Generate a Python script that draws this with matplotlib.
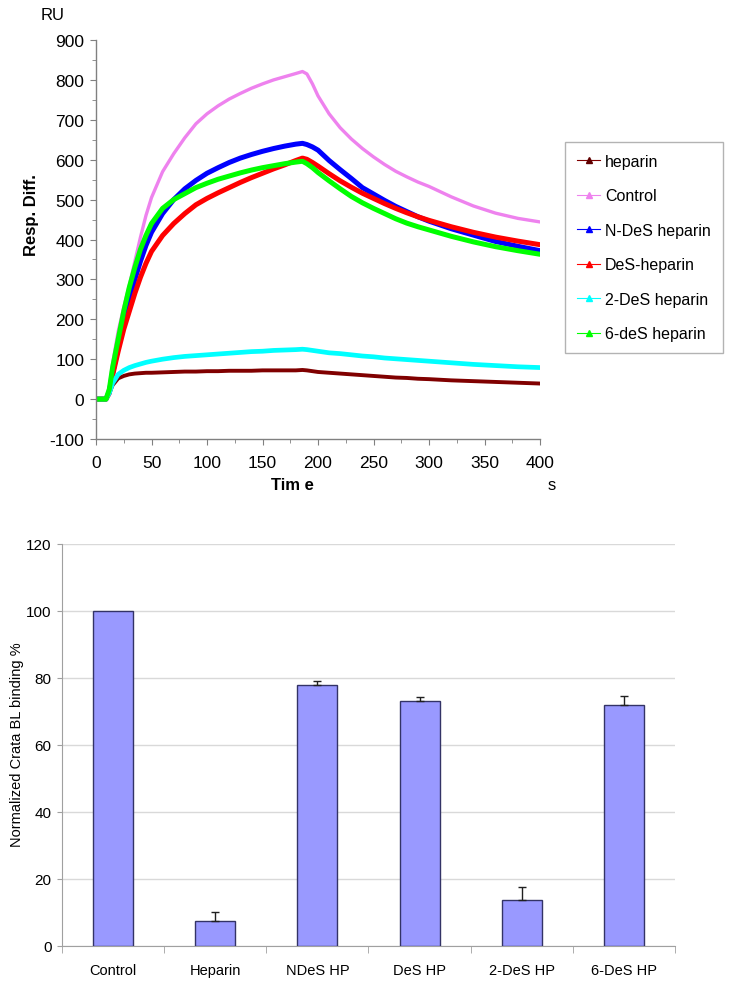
import matplotlib
matplotlib.use('Agg')
import matplotlib.pyplot as plt
from matplotlib.lines import Line2D
from matplotlib.ticker import MultipleLocator, FixedLocator
import numpy as np

plt.rcParams['font.family'] = ['Liberation Sans', 'DejaVu Sans']
plt.rcParams['axes.unicode_minus'] = False

# ---- sensorgram (top) ----
t = [0, 9, 12, 15, 20, 25, 30, 35, 40, 45, 50, 60, 70, 80, 90, 100, 110, 120, 130, 140,
     150, 160, 170, 180, 186, 190, 195, 200, 210, 220, 230, 240, 250, 260, 270, 280, 290,
     300, 320, 340, 360, 380, 400]

heparin = [0, 0, 15, 35, 52, 58, 62, 64, 65, 66, 66, 67, 68, 69, 69, 70, 70, 71, 71, 71,
           72, 72, 72, 72, 73, 72, 70, 68, 66, 64, 62, 60, 58, 56, 54, 53, 51,
           50, 47, 45, 43, 41, 39]
control = [0, 0, 30, 90, 170, 230, 285, 345, 405, 460, 505, 570, 615, 655, 690, 715, 735, 752, 766, 779,
           790, 800, 808, 816, 821, 815, 790, 760, 715, 680, 652, 628, 607, 588, 571, 557, 544,
           533, 507, 484, 466, 453, 444]
ndes = [0, 0, 18, 65, 130, 195, 250, 300, 345, 385, 418, 465, 500, 527, 548, 566, 580, 593, 604, 613,
        621, 628, 634, 639, 641, 638, 632, 624, 598, 575, 553, 530, 514, 498, 483, 470, 457,
        446, 427, 411, 395, 383, 372]
des = [0, 0, 15, 60, 120, 175, 220, 265, 305, 340, 370, 410, 440, 465, 487, 503, 517, 530, 543, 555,
       566, 577, 587, 598, 604, 601, 593, 584, 565, 547, 531, 516, 503, 490, 478, 467, 457,
       448, 432, 418, 406, 396, 387]
des2 = [0, 0, 15, 40, 62, 72, 79, 84, 88, 92, 95, 100, 104, 107, 109, 111, 113, 115, 117, 119,
        120, 122, 123, 124, 125, 124, 122, 120, 116, 114, 111, 108, 106, 103, 101, 99, 97,
        95, 91, 87, 84, 81, 79]
des6 = [0, 0, 25, 80, 150, 220, 280, 330, 375, 410, 440, 478, 500, 515, 530, 541, 551, 559, 567, 574,
        580, 585, 590, 594, 596, 590, 580, 568, 547, 527, 508, 492, 478, 465, 452, 441, 432,
        424, 408, 394, 382, 372, 363]

series = [
    ('heparin', heparin, '#800000', 2.8),
    ('Control', control, '#EE82EE', 2.4),
    ('N-DeS heparin', ndes, '#0000FF', 3.6),
    ('DeS-heparin', des, '#FF0000', 3.6),
    ('2-DeS heparin', des2, '#00FFFF', 3.4),
    ('6-deS heparin', des6, '#00FF00', 3.6),
]

fig = plt.figure(figsize=(7.29, 9.87), dpi=100)
W, H = 729.0, 987.0

ax = fig.add_axes([96 / W, 1 - 440 / H, 444 / W, 399 / H])
handles = []
for name, vals, col, lw in series:
    ax.plot(t, vals, color=col, lw=lw, solid_capstyle='round')
    mk = '#600000' if name == 'heparin' else col
    handles.append(Line2D([], [], color=col, lw=0.8, marker='^', ms=4,
                          markerfacecolor=mk, markeredgecolor=mk))

ax.set_xlim(0, 400)
ax.set_ylim(-100, 900)
ax.xaxis.set_major_locator(MultipleLocator(50))
ax.xaxis.set_minor_locator(MultipleLocator(25))
ax.yaxis.set_major_locator(MultipleLocator(100))
ax.yaxis.set_minor_locator(MultipleLocator(50))
for s in ['top', 'right']:
    ax.spines[s].set_visible(False)
for s in ['left', 'bottom']:
    ax.spines[s].set_color('#808080')
    ax.spines[s].set_linewidth(1)
ax.tick_params(which='major', direction='out', length=4.5, color='#808080', labelsize=12.5, pad=4)
ax.tick_params(which='minor', direction='out', length=3, color='#808080')
ax.tick_params(axis='x', pad=7)

fig.text(53 / W, 1 - 15 / H, 'RU', fontsize=12, ha='center', va='center')
fig.text(32 / W, 1 - 215 / H, 'Resp. Diff.', fontsize=12, fontweight='bold', rotation=90,
         ha='center', va='center')
fig.text(292 / W, 1 - 485 / H, 'Tim e', fontsize=12, fontweight='bold', ha='center', va='center')
fig.text(552 / W, 1 - 485 / H, 's', fontsize=12, ha='center', va='center')

leg = ax.legend(handles, [s[0] for s in series], loc='upper left',
                bbox_to_anchor=(565 / W, 1 - 143 / H), bbox_transform=fig.transFigure,
                fontsize=11.5, frameon=True, fancybox=False, borderpad=0.75,
                labelspacing=1.22, handlelength=1.45, handletextpad=0.3, borderaxespad=0)
leg.get_frame().set_edgecolor('#A0A0A0')
leg.get_frame().set_linewidth(1)

# ---- bar chart (bottom) ----
categories = ['Control', 'Heparin', 'NDeS HP', 'DeS HP', '2-DeS HP', '6-DeS HP']
binding = [100, 7.5, 78, 73, 13.7, 72]
binding_err = [0, 2.6, 1.2, 1.3, 3.9, 2.6]

bx = fig.add_axes([62 / W, 1 - 947 / H, 613 / W, 402 / H])
x = np.arange(len(categories))
bx.bar(x, binding, width=0.39, color='#9999FF', edgecolor='#333366', linewidth=1, zorder=3)
err = np.array(binding_err)
m = err > 0
bx.errorbar(x[m], np.array(binding)[m], yerr=[np.zeros(m.sum()), err[m]], fmt='none',
            ecolor='#202020', elinewidth=1, capsize=2.8, capthick=1, zorder=4)

bx.set_xlim(-0.5, len(categories) - 0.5)
bx.set_ylim(0, 120)
bx.yaxis.set_major_locator(MultipleLocator(20))
bx.set_xticks(x)
bx.set_xticklabels(categories, fontsize=10.5)
bx.xaxis.set_minor_locator(FixedLocator(np.arange(len(categories) + 1) - 0.5))
bx.tick_params(axis='x', which='major', length=0, pad=12)
bx.tick_params(axis='x', which='minor', length=5, color='#A0A0A0')
bx.tick_params(axis='y', length=3.5, color='#A0A0A0', labelsize=11, pad=4)
bx.grid(axis='y', color='#D9D9D9', linewidth=1, zorder=0)
for s in ['top', 'right']:
    bx.spines[s].set_visible(False)
for s in ['left', 'bottom']:
    bx.spines[s].set_color('#A0A0A0')
fig.text(17 / W, 1 - 745 / H, 'Normalized Crata BL binding %', fontsize=10.5, rotation=90,
         ha='center', va='center')

fig.savefig('out.png', dpi=100)
